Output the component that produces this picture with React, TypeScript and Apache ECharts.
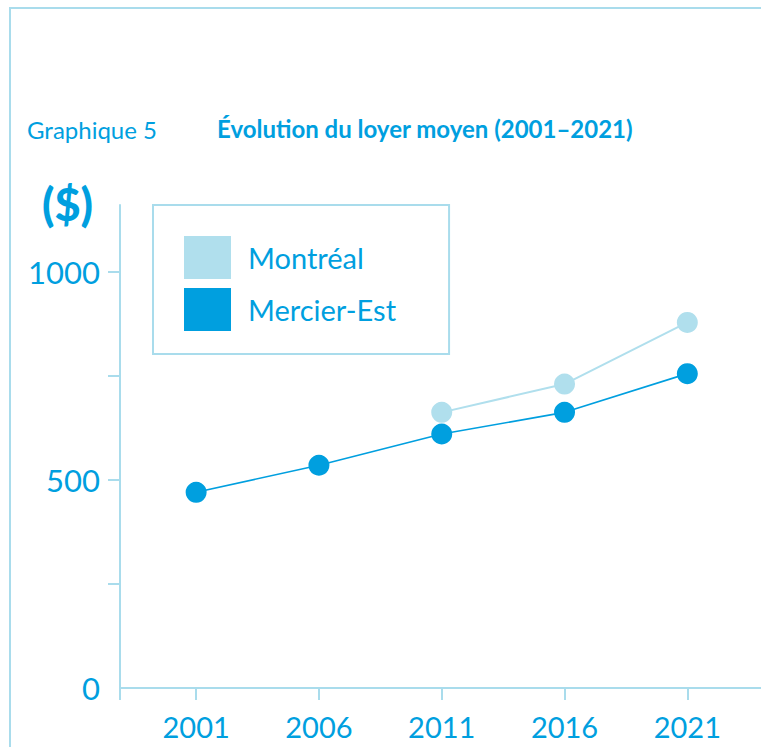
import React, { useEffect, useRef } from "react";
import * as echarts from "echarts";

const years = [2001, 2006, 2011, 2016, 2021];
const mercierEst = [470, 535, 610, 662, 755];
const montrealYears = [2011, 2016, 2021];
const montreal = [662, 730, 878];
const yTickValues = [250, 500, 750, 1000];
const yLabelValues = [0, 500, 1000];

const BLUE = "#009fdf";
const LIGHT = "#b0dfed";
const AXIS = "#a9dcec";
const FONT = "Lato";

export default function App() {
  const ref = useRef<HTMLDivElement>(null);
  useEffect(() => {
    if (!ref.current) return;
    const chart = echarts.init(ref.current, null, { renderer: "svg" });
    const xMin = 1997.9;
    chart.setOption({
      animation: false,
      backgroundColor: "#ffffff",
      textStyle: { fontFamily: FONT },
      grid: { left: 120, right: 0, top: 205, bottom: 59, containLabel: false },
      graphic: [
        {
          type: "polyline",
          shape: { points: [[10, 747], [10, 8], [761, 8]] },
          style: { stroke: AXIS, lineWidth: 2, fill: null },
          silent: true,
        },
        {
          type: "text",
          left: 27,
          top: 117,
          style: { text: "Graphique 5", fill: BLUE, font: `400 24px ${FONT}` },
        },
        {
          type: "text",
          left: 217,
          top: 116,
          style: { text: "Évolution du loyer moyen (2001–2021)", fill: BLUE, font: `700 24px ${FONT}` },
        },
        {
          type: "text",
          left: 42,
          top: 181,
          style: { text: "($)", fill: BLUE, font: `900 45px ${FONT}` },
        },
      ],
      legend: {
        orient: "vertical",
        left: 153,
        top: 205,
        icon: "rect",
        itemWidth: 47,
        itemHeight: 43,
        itemGap: 9,
        padding: [31, 53, 23, 31],
        borderColor: AXIS,
        borderWidth: 2,
        textStyle: { color: BLUE, fontSize: 29, fontFamily: FONT, padding: [0, 0, 0, 12] },
        data: ["Montréal", "Mercier-Est"],
      },
      xAxis: {
        type: "value",
        min: xMin,
        max: 2024,
        splitLine: { show: false },
        axisLine: { show: true, lineStyle: { color: AXIS, width: 2 } },
        axisTick: {
          show: true,
          length: 12,
          lineStyle: { color: AXIS, width: 2 },
          customValues: [xMin, ...years],
        },
        axisLabel: {
          customValues: years,
          formatter: (v: number) => String(v),
          color: BLUE,
          fontSize: 29,
          fontFamily: FONT,
          margin: 24,
        },
      },
      yAxis: {
        type: "value",
        min: 0,
        max: 1160,
        splitLine: { show: false },
        axisLine: { show: true, lineStyle: { color: AXIS, width: 2 } },
        axisTick: {
          show: true,
          length: 12,
          lineStyle: { color: AXIS, width: 2 },
          customValues: yTickValues,
        },
        axisLabel: {
          customValues: yLabelValues,
          formatter: (v: number) => String(v),
          color: BLUE,
          fontSize: 31,
          fontFamily: FONT,
          margin: 20,
        },
      },
      series: [
        {
          name: "Montréal",
          type: "line",
          data: montrealYears.map((y, i) => [y, montreal[i]]),
          symbol: "circle",
          symbolSize: 21,
          itemStyle: { color: LIGHT },
          lineStyle: { color: LIGHT, width: 2 },
          z: 2,
        },
        {
          name: "Mercier-Est",
          type: "line",
          data: years.map((y, i) => [y, mercierEst[i]]),
          symbol: "circle",
          symbolSize: 21,
          itemStyle: { color: BLUE },
          lineStyle: { color: BLUE, width: 1.6 },
          z: 3,
        },
      ],
    });
    return () => chart.dispose();
  }, []);
  return (
    <div
      ref={ref}
      style={{ position: "absolute", left: 0, top: 0, width: 761, height: 747 }}
    />
  );
}
